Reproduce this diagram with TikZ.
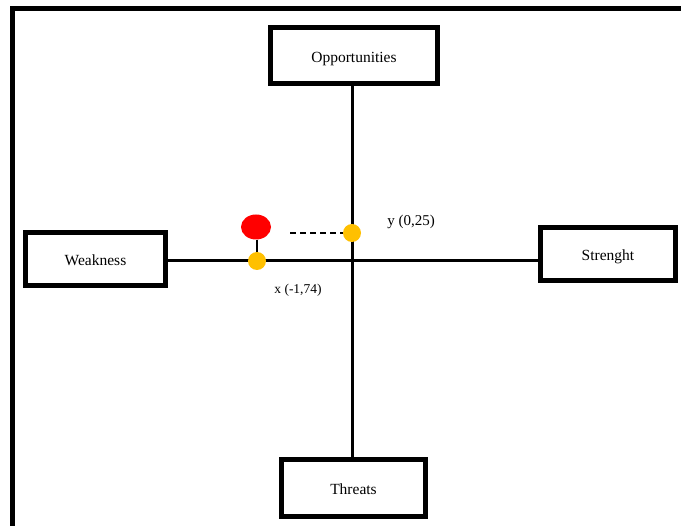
\documentclass[tikz,border=0pt]{standalone}
\usepackage{fontspec}
\setmainfont{Liberation Serif}
\usetikzlibrary{shapes.geometric}
\definecolor{dotyellow}{RGB}{255,192,0}
\begin{document}
\begin{tikzpicture}[x=1pt,y=-1pt,
  swotbox/.style={draw=black,line width=5pt,fill=white,inner sep=0pt,text height=12.5pt,text depth=0pt,font=\fontsize{15.5}{18}\selectfont},
  axis/.style={line width=3pt},
  ydot/.style={circle,fill=dotyellow,inner sep=0pt,minimum size=18pt},
  lbl/.style={font=\fontsize{15}{17}\selectfont}]
\useasboundingbox (0,0) rectangle (681,526);
\fill[white] (0,0) rectangle (681,526);
\draw[line width=5pt] (12,526) -- (12,9) -- (681,9);
\node[swotbox,minimum width=167pt,minimum height=56pt] (opp) at (354,56) {Opportunities};
\node[swotbox,minimum width=144pt,minimum height=57pt] (thr) at (353.5,488) {Threats};
\node[swotbox,minimum width=135pt,minimum height=53pt] (str) at (608,254) {Strenght};
\node[swotbox,minimum width=140pt,minimum height=53pt] (wea) at (95.5,259) {Weakness};
\coordinate (vtop) at (352,88);
\draw[axis] (opp.south -| vtop) -- (thr.north -| vtop);
\draw[axis] (wea.east |- 0,261) -- (str.west |- 0,261);
\node[ydot] (yd) at (352,233) {};
\node[ydot] (xd) at (257,261) {};
\node[ellipse,fill=red,inner sep=0pt,minimum width=30pt,minimum height=25pt] (red) at (256,227) {};
\draw[line width=1.5pt] (red.south -| xd) -- (xd.north);
\coordinate (dstart) at (290,233);
\draw[line width=1.5pt,dash pattern=on 6pt off 4pt] (dstart) -- (yd.west);
\node[lbl] (ylab) at (411,222) {y (0,25)};
\node[lbl,font=\fontsize{13.5}{16}\selectfont] (xlab) at (298,290) {x (-1,74)};
\end{tikzpicture}
\end{document}
